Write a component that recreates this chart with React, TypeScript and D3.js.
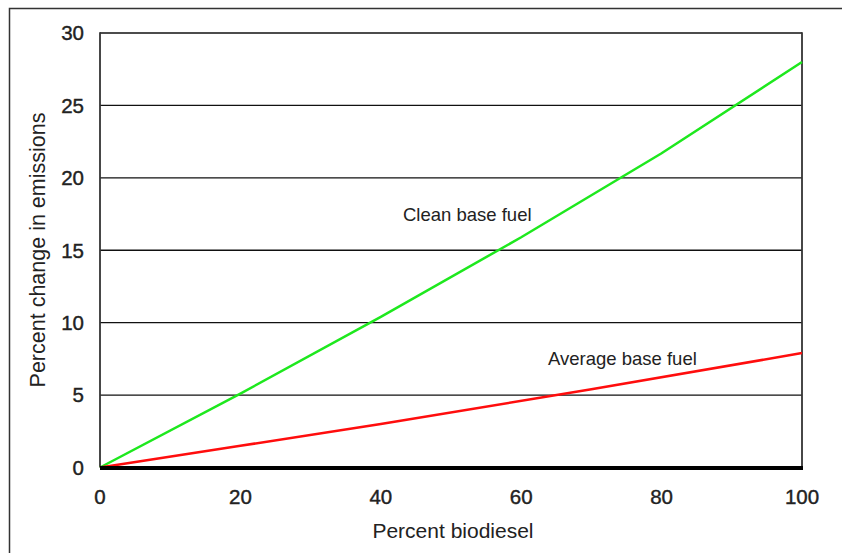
import React from "react";
import * as d3 from "d3";

const cleanX = [0, 20, 40, 60, 80, 100];
const cleanY = [0, 5.1, 10.4, 15.9, 21.7, 28];
const avgX = [0, 20, 40, 70, 100];
const avgY = [0, 1.5, 3.0, 5.4, 7.9];
const xTicks = [0, 20, 40, 60, 80, 100];
const yTicks = [0, 5, 10, 15, 20, 25, 30];

export default function App() {
  const W = 842, H = 553;
  const x = d3.scaleLinear().domain([0, 100]).range([100, 802]);
  const y = d3.scaleLinear().domain([0, 30]).range([467.5, 33]);
  const line = d3.line<[number, number]>().x(d => x(d[0])).y(d => y(d[1]));
  const clean = cleanX.map((v, i) => [v, cleanY[i]] as [number, number]);
  const avg = avgX.map((v, i) => [v, avgY[i]] as [number, number]);
  const font = "Liberation Sans, Arial, sans-serif";
  return (
    <svg width={W} height={H} style={{ position: "absolute", left: 0, top: 0, background: "#fff" }} fontFamily={font}>
      <rect x={9.5} y={8.5} width={840} height={560} fill="none" stroke="#333" strokeWidth={1.5} />
      {yTicks.filter(t => t > 0).map(t => (
        <line key={t} x1={x(0)} x2={x(100)} y1={y(t)} y2={y(t)} stroke="#111" strokeWidth={1.3} />
      ))}
      <line x1={x(0)} x2={x(0)} y1={y(30) - 0.7} y2={y(0)} stroke="#333" strokeWidth={1.8} />
      <line x1={x(100)} x2={x(100)} y1={y(30) - 0.7} y2={y(0)} stroke="#333" strokeWidth={1.8} />
      <path d={line(clean) || ""} fill="none" stroke="#1ee81e" strokeWidth={2.5} />
      <path d={line(avg) || ""} fill="none" stroke="#ff0d0d" strokeWidth={2.5} />
      <line x1={x(0)} x2={x(100) + 1} y1={y(0) + 0.5} y2={y(0) + 0.5} stroke="#000" strokeWidth={4} />
      {yTicks.map(t => (
        <text key={t} x={84} y={y(t)} dy="0.36em" textAnchor="end" fontSize={20.5} fill="#222" stroke="#222" strokeWidth={0.4}>{t}</text>
      ))}
      {xTicks.map(t => (
        <text key={t} x={x(t)} y={496.5} dy="0.36em" textAnchor="middle" fontSize={20.5} fill="#222" stroke="#222" strokeWidth={0.4}>{t}</text>
      ))}
      <text x={453} y={538} textAnchor="middle" fontSize={21} fill="#222">Percent biodiesel</text>
      <text transform={`translate(37,${250}) rotate(-90)`} dy="0.36em" textAnchor="middle" fontSize={21.5} fill="#222">Percent change in emissions</text>
      <text x={403} y={221} fontSize={18.5} fill="#222">Clean base fuel</text>
      <text x={548} y={365} fontSize={18.5} fill="#222">Average base fuel</text>
    </svg>
  );
}
